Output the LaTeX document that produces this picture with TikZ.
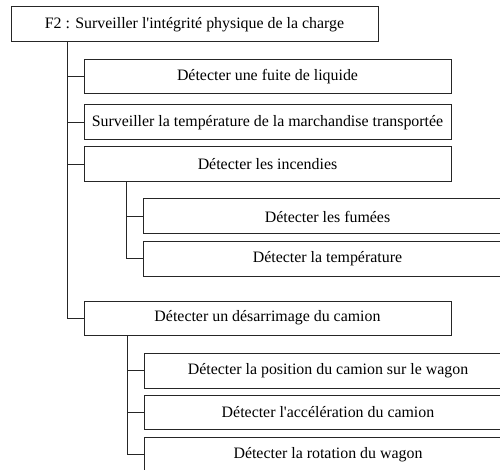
\documentclass[tikz,border=0pt]{standalone}
\usepackage{fontspec}
\setmainfont{Liberation Serif}
\newfontfamily\tnr{Liberation Serif}
\begin{document}
\begin{tikzpicture}[x=1pt,y=-1pt,
  box/.style={draw=black!85, line width=1pt, rectangle, inner sep=0pt,
    font=\tnr\fontsize{15.9}{19}\selectfont, text=black},
  wire/.style={draw=black!85, line width=1pt}]
\clip (0,0) rectangle (500,470);
\node[box, minimum width=367pt, minimum height=35pt] (top) at (194.5,24.5) {F2 : Surveiller l'intégrité physique de la charge};
\node[box, minimum width=367pt, minimum height=34pt] (b1) at (267.5,77) {Détecter une fuite de liquide};
\node[box, minimum width=367pt, minimum height=35pt] (b2) at (267.5,122.5) {Surveiller la température de la marchandise transportée};
\node[box, minimum width=367pt, minimum height=35pt] (b3) at (267.5,164.5) {Détecter les incendies};
\node[box, minimum width=369pt, minimum height=35pt] (s1) at (327.5,216.5) {Détecter les fumées};
\node[box, minimum width=369pt, minimum height=35pt] (s2) at (327.5,258.5) {Détecter la température};
\node[box, minimum width=367pt, minimum height=34pt] (b4) at (267.5,318) {Détecter un désarrimage du camion};
\node[box, minimum width=368pt, minimum height=35pt] (p1) at (328,370.5) {Détecter la position du camion sur le wagon};
\node[box, minimum width=368pt, minimum height=34pt] (p2) at (328,412) {Détecter l'accélération du camion};
\node[box, minimum width=368pt, minimum height=35pt] (p3) at (328,454.5) {Détecter la rotation du wagon};
\coordinate (spine) at (67,0);
\coordinate (spineA) at (126,0);
\coordinate (spineB) at (127,0);
\draw[wire] (top.south -| spine) |- (b4.west);
\draw[wire] (spine |- b1.west) -- (b1.west);
\draw[wire] (spine |- b2.west) -- (b2.west);
\draw[wire] (spine |- b3.west) -- (b3.west);
\draw[wire] (b3.south -| spineA) |- (s2.west);
\draw[wire] (spineA |- s1.west) -- (s1.west);
\draw[wire] (b4.south -| spineB) |- (p3.west);
\draw[wire] (spineB |- p1.west) -- (p1.west);
\draw[wire] (spineB |- p2.west) -- (p2.west);
\end{tikzpicture}
\end{document}
